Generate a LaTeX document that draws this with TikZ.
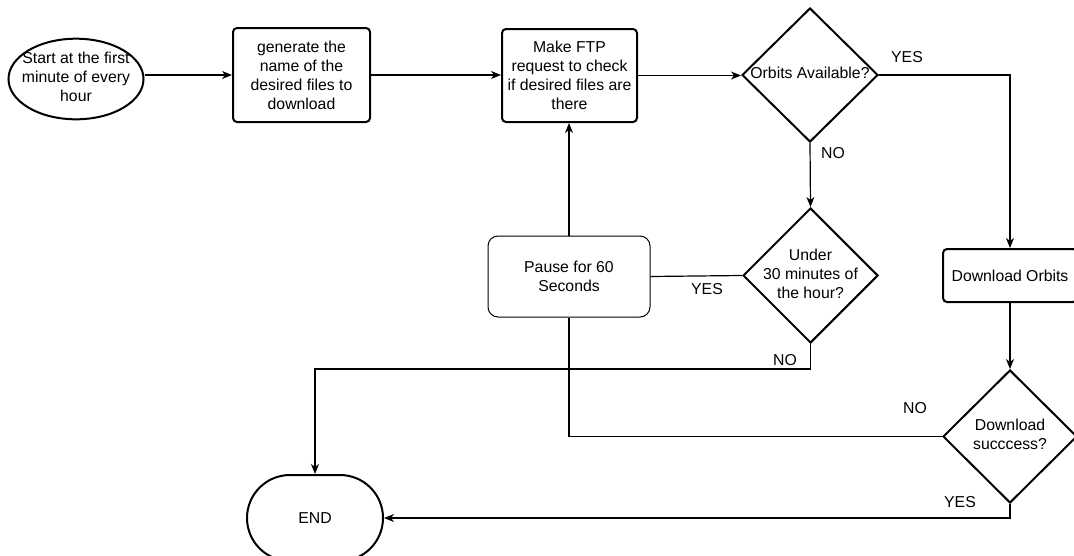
\documentclass[tikz,border=0pt]{standalone}
\usepackage{fontspec}
\setmainfont{Liberation Sans}
\usetikzlibrary{shapes.geometric,arrows.meta}

% zero-width multi-line text so a shape keeps its set size
\newcommand{\dtext}[1]{\makebox[0pt]{\begin{tabular}{@{}c@{}}#1\end{tabular}}}

\tikzset{
  every node/.style={font=\fontsize{15.8}{19}\selectfont, align=center, inner sep=0pt},
  terminal/.style={draw, ellipse, line width=2pt, minimum width=135pt, minimum height=74pt},
  stopbox/.style={draw, rectangle, rounded corners=43pt, line width=2pt, minimum width=136pt, minimum height=86pt},
  proc/.style={draw, rectangle, rounded corners=4pt, line width=2pt},
  softbox/.style={draw, rectangle, rounded corners=10pt, line width=1pt, minimum width=162pt, minimum height=81pt},
  decision/.style={draw, diamond, line width=2pt, minimum width=136pt, minimum height=134pt},
  conn/.style={line width=1.2pt},
  arr/.style={conn, -{Stealth[length=10pt, width=8pt, inset=3pt]}},
  lbl/.style={font=\fontsize{15.8}{19}\selectfont}
}

\begin{document}
\begin{tikzpicture}[x=1pt, y=-1pt]
  \useasboundingbox (0,0) rectangle (1074,555);
  \clip (0,0) rectangle (1074,555);

  % nodes
  \node[terminal] (start) at (76,79) {\dtext{Start at the first\\minute of every\\hour}};
  \node[proc, minimum width=137pt, minimum height=94pt] (gen) at (301.5,75) {generate the\\name of the\\desired files to\\download};
  \node[proc, minimum width=135pt, minimum height=93pt] (ftp) at (569.5,75.5) {Make FTP\\request to check\\if desired files are\\there};
  \node[decision] (orbits) at (810,75) {\dtext{Orbits Available?}};
  \node[decision, minimum width=135pt, minimum height=135pt] (under) at (810.5,275.5) {\dtext{Under\\30 minutes of\\the hour?}};
  \node[softbox] (pause) at (569,276.5) {Pause for 60\\Seconds};
  \node[proc, minimum width=134pt, minimum height=53pt] (dlorb) at (1010,275.5) {Download Orbits};
  \node[decision, minimum width=134pt, minimum height=133pt] (dlsucc) at (1010,436.5) {\dtext{Download\\succcess?}};
  \node[stopbox] (end) at (315,518) {END};
  \coordinate (nojoin) at (0,369);

  % connectors
  \draw[arr] (gen.west -| start.east) -- (gen.west);
  \draw[arr] (gen.east) -- (gen.east -| ftp.west);
  \draw[arr] (ftp.east) -- (ftp.east -| orbits.west);
  \draw[arr] (orbits.east) -| (dlorb.north);
  \draw[arr] (orbits.south) -- (under.north);
  \draw[conn] (under.west) -- (pause.east);
  \draw[arr] (pause.north) -- (pause.north |- ftp.south);
  \draw[arr] (under.south) -- (under.south |- nojoin) -| (end.north);
  \draw[arr] (dlorb.south) -- (dlsucc.north);
  \draw[conn] (dlsucc.west) -| (pause.south);
  \draw[arr] (dlsucc.south) |- (end.east);

  % branch labels
  \node[lbl] (l1) at (907,57) {YES};
  \node[lbl] (l2) at (833,153) {NO};
  \node[lbl] (l3) at (707,289) {YES};
  \node[lbl] (l4) at (785,360) {NO};
  \node[lbl] (l5) at (915,408) {NO};
  \node[lbl] (l6) at (960,502) {YES};
\end{tikzpicture}
\end{document}
